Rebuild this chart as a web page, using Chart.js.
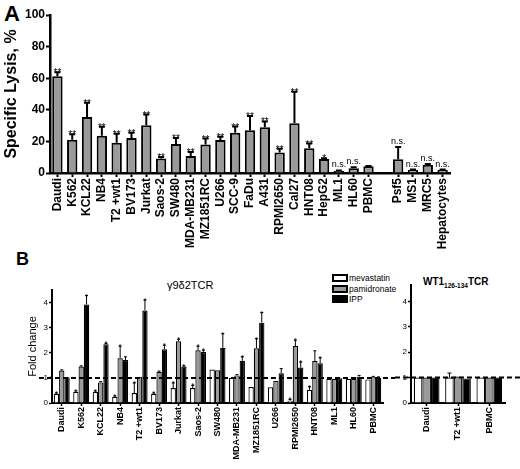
<!DOCTYPE html>
<html>
<head>
<meta charset="utf-8">
<script src="https://cdn.jsdelivr.net/npm/chart.js@4"></script>
<style>
  html, body { margin:0; padding:0; background:#fff; }
  body { width:520px; height:469px; position:relative; overflow:hidden; font-family:'Liberation Sans', Arial, sans-serif; color:#000; }
  canvas { position:absolute; }
  .lbl { position:absolute; white-space:nowrap; }
  .legend { position:absolute; left:332px; top:273px; font-size:8.5px; line-height:10.5px; }
  .legend div { height:10.5px; display:flex; align-items:center; }
  .legend span.box { display:inline-block; width:12px; height:4px; border:2px solid #000; margin-right:1px; }
</style>
</head>
<body>
<div class="lbl" style="left:4px;top:1px;font-size:22px;font-weight:bold;">A</div>
<div class="lbl" style="left:16px;top:249px;font-size:18px;font-weight:bold;">B</div>
<div class="lbl" style="left:167px;top:279px;font-size:11px;">γ9δ2TCR</div>
<div class="lbl" style="left:423px;top:276px;font-size:10px;font-weight:bold;">WT1<sub style="font-size:6.5px;">126-134</sub>TCR</div>
<div class="legend" id="legend"></div>

<canvas id="cA" width="520" height="262" style="left:0;top:0;"></canvas>
<canvas id="cB1" width="395" height="199" style="left:0;top:270px;"></canvas>
<canvas id="cB2" width="125" height="199" style="left:395px;top:270px;"></canvas>

<script>
// ---------- Panel A data ----------
const lysisLabels = ['Daudi','K562','KCL22','NB4','T2 +wt1','BV173','Jurkat','Saos-2','SW480','MDA-MB231','MZ1851RC','U266','SCC-9','FaDu','A431','RPMI2650','Cal27','HNT08','HepG2','ML1','HL60','PBMC','','Psf5','MS1','MRC5','Hepatocytes'];
const lysisValues = [61.3,21.1,35.5,23.5,19.2,22.2,30.2,9.1,18.4,10.8,18.0,20.9,25.4,27.0,29.0,12.9,31.5,15.6,8.9,1.3,3.0,4.2,null,8.7,1.9,5.3,1.9];
const lysisErrors = [2.5,3.4,9.0,5.7,5.7,3.2,6.8,1.0,3.8,2.5,3.8,2.1,4.0,9.0,3.6,2.5,20.0,3.0,0.4,0.3,0.6,0.3,null,7.8,0.3,0.4,0.3];
const lysisSig = ['**','**','**','**','**','**','**','**','**','**','**','**','**','**','**','**','**','**','*','n.s.','n.s.','','','n.s.','n.s.','n.s.','n.s.'];
const lysisTicks = [0,20,40,60,80,100];

// ---------- Panel B data (γ9δ2TCR) ----------
const foldLabels = ['Daudi','K562','KCL22','NB4','T2 +wt1','BV173','Jurkat','Saos-2','SW480','MDA-MB231','MZ1851RC','U266','RPMI2650','HNT08','ML1','HL60','PBMC'];
const mevastatin  = [0.37,0.45,0.45,0.25,0.40,0.37,0.60,0.60,1.33,1.00,0.64,0.63,0.09,0.53,0.96,0.96,0.94];
const mevastatinErr = [0.03,0.03,0.03,0.03,0.40,0.03,0.20,0.10,0,0,0,0,0.05,0.12,0,0,0];
const pamidronate = [1.29,1.45,0.82,1.78,1.05,1.24,2.46,2.10,1.30,1.10,2.18,0.88,2.27,1.67,0.96,0.96,1.03];
const pamidronateErr = [0.03,0.03,0.03,0.48,0,0.03,0.08,0.16,0,0.03,0.38,0,0.23,0.41,0,0,0.03];
const ipp = [1.03,3.92,2.34,1.71,3.68,2.14,1.45,2.03,2.20,1.68,3.20,1.18,1.41,1.58,0.99,1.05,1.00];
const ippErr = [0,0.36,0.03,0.13,0.42,0.16,0.03,0.07,0.56,0.16,0.40,0.19,0.22,0.22,0,0.05,0.04];
const mevSig = ['*','*','*','*','*','*','*','*','','','','','*','*','','',''];
const pamSig = ['','','','*','','','*','*','','','*','','*','','','',''];
const ippSig = ['','*','*','','*','*','*','*','*','*','*','','*','*','','',''];
const foldTicks = [0,1,2,3,4];

// ---------- Panel B data (WT1 126-134 TCR) ----------
const wtLabels = ['Daudi','T2 +wt1','PBMC'];
const wtMevastatin = [1.00,1.00,1.00];
const wtMevastatinErr = [0,0.18,0];
const wtPamidronate = [1.00,1.04,1.00];
const wtIpp = [1.00,0.97,1.00];

const seriesNames = ['mevastatin','pamidronate','IPP'];
const GRAY = '#9a9a9a';
const seriesFill = ['#ffffff', GRAY, '#000000'];

// legend (HTML)
const lg = document.getElementById('legend');
seriesNames.forEach((n,i)=>{
  const d = document.createElement('div');
  d.innerHTML = '<span class="box" style="background:'+seriesFill[i]+'"></span>'+n;
  lg.appendChild(d);
});

const FONT = "'Liberation Sans', Arial, sans-serif";

// Plugin: error bars, significance labels, dashed reference line
const extrasPlugin = {
  id:'extras',
  afterDatasetsDraw(chart, args, opts){
    const ctx = chart.ctx;
    const y = chart.scales.y;
    ctx.save();
    (opts.errors||[]).forEach((errs, di)=>{
      const meta = chart.getDatasetMeta(di);
      const vals = chart.data.datasets[di].data;
      meta.data.forEach((bar, j)=>{
        const v = vals[j]; const e = errs ? errs[j] : 0;
        if (v == null) return;
        const top = y.getPixelForValue(v + (e||0));
        if (e > 0) {
          ctx.strokeStyle = '#000'; ctx.lineWidth = opts.errWidth;
          const yb = y.getPixelForValue(v);
          ctx.beginPath(); ctx.moveTo(bar.x, yb); ctx.lineTo(bar.x, top);
          ctx.moveTo(bar.x - opts.capW/2, top); ctx.lineTo(bar.x + opts.capW/2, top);
          ctx.stroke();
        }
        const sig = opts.sigs && opts.sigs[di] ? opts.sigs[di][j] : '';
        if (sig) {
          ctx.fillStyle = '#000'; ctx.textAlign = 'center'; ctx.textBaseline = 'alphabetic';
          if (sig === 'n.s.') { ctx.font = opts.nsFont; ctx.fillText(sig, bar.x, top - 3); }
          else { ctx.font = opts.starFont; ctx.fillText(sig, bar.x, top + opts.starOff); }
        }
      });
    });
    if (opts.dashAt != null) {
      const py = y.getPixelForValue(opts.dashAt);
      ctx.strokeStyle = '#000'; ctx.lineWidth = 2; ctx.setLineDash([5,3]);
      ctx.beginPath(); ctx.moveTo(opts.dashFrom, py); ctx.lineTo(chart.width, py); ctx.stroke();
    }
    ctx.restore();
  }
};

function tickColorFn(labels){ return (c)=> (labels[c.index] === '' ? 'rgba(0,0,0,0)' : '#000'); }

// ---------- Chart A ----------
new Chart(document.getElementById('cA'), {
  type:'bar',
  data:{ labels: lysisLabels, datasets:[{ data: lysisValues, backgroundColor: GRAY, borderColor:'#000', borderWidth:2, barPercentage:0.7, categoryPercentage:1 }] },
  options:{
    responsive:false, animation:false, devicePixelRatio:1,
    layout:{ padding:{ left:0, right:70, top:15, bottom:0 } },
    plugins:{ legend:{display:false}, tooltip:{enabled:false},
      extras:{ errors:[lysisErrors], sigs:[lysisSig], errWidth:2, capW:6, starFont:'10px '+FONT, nsFont:'9px '+FONT, starOff:4, dashAt:null } },
    scales:{
      x:{ offset:true,
        grid:{ display:true, drawOnChartArea:false, offset:false, tickLength:4, tickWidth:2, tickColor: tickColorFn(lysisLabels) },
        border:{ display:true, color:'#000', width:2.5 },
        ticks:{ autoSkip:false, minRotation:90, maxRotation:90, padding:1, color:'#000', font:{ family:FONT, size:12, weight:'bold' } },
        afterFit(s){ s.height = 89; } },
      y:{ min:0, max:100,
        afterBuildTicks(s){ s.ticks = lysisTicks.map(v=>({value:v})); },
        grid:{ display:true, drawOnChartArea:false, tickLength:4, tickWidth:2, tickColor:'#000' },
        border:{ display:true, color:'#000', width:2.5 },
        ticks:{ padding:1, color:'#000', font:{ family:FONT, size:12, weight:'bold' } },
        title:{ display:true, text:'Specific Lysis, %', color:'#000', font:{ family:FONT, size:16, weight:'bold' }, padding:{top:2,bottom:0} },
        afterFit(s){ s.width = 50; } }
    }
  },
  plugins:[extrasPlugin]
});

function foldDatasets(a, b, c, bw){
  return [a,b,c].map((d,i)=>({ label:seriesNames[i], data:d, backgroundColor:seriesFill[i], borderColor:'#000', borderWidth:bw, barPercentage:1, categoryPercentage:0.82 }));
}

// ---------- Chart B left ----------
new Chart(document.getElementById('cB1'), {
  type:'bar',
  data:{ labels: foldLabels, datasets: foldDatasets(mevastatin, pamidronate, ipp, 1.2) },
  options:{
    responsive:false, animation:false, devicePixelRatio:1,
    layout:{ padding:{ left:23, right:12, top:20, bottom:0 } },
    plugins:{ legend:{display:false}, tooltip:{enabled:false},
      extras:{ errors:[mevastatinErr, pamidronateErr, ippErr], sigs:[mevSig, pamSig, ippSig], errWidth:1, capW:3, starFont:'8px '+FONT, nsFont:'8px '+FONT, starOff:3, dashAt:1, dashFrom:39 } },
    scales:{
      x:{ offset:true,
        grid:{ display:true, drawOnChartArea:false, offset:false, tickLength:3, tickWidth:1.5, tickColor:'#000' },
        border:{ display:true, color:'#000', width:2 },
        ticks:{ autoSkip:false, minRotation:90, maxRotation:90, padding:1, color:'#000', font:{ family:FONT, size:9, weight:'bold' } },
        afterFit(s){ s.height = 66; } },
      y:{ min:0, max:4.5,
        afterBuildTicks(s){ s.ticks = foldTicks.map(v=>({value:v})); },
        grid:{ display:true, drawOnChartArea:false, tickLength:3, tickWidth:1.5, tickColor:'#000' },
        border:{ display:true, color:'#000', width:2 },
        ticks:{ padding:1, color:'#000', font:{ family:FONT, size:8 } },
        title:{ display:true, text:'Fold change', color:'#000', font:{ family:FONT, size:11 }, padding:{top:3,bottom:0} },
        afterFit(s){ s.width = 29; } }
    }
  },
  plugins:[extrasPlugin]
});

// ---------- Chart B right ----------
new Chart(document.getElementById('cB2'), {
  type:'bar',
  data:{ labels: wtLabels, datasets: foldDatasets(wtMevastatin, wtPamidronate, wtIpp, 1.2) },
  options:{
    responsive:false, animation:false, devicePixelRatio:1,
    layout:{ padding:{ left:0, right:15, top:15, bottom:0 } },
    plugins:{ legend:{display:false}, tooltip:{enabled:false},
      extras:{ errors:[wtMevastatinErr, null, null], sigs:[], errWidth:1, capW:4, starFont:'8px '+FONT, nsFont:'8px '+FONT, starOff:3, dashAt:1, dashFrom:0 } },
    scales:{
      x:{ offset:true,
        grid:{ display:true, drawOnChartArea:false, offset:false, tickLength:3, tickWidth:1.5, tickColor:'#000' },
        border:{ display:true, color:'#000', width:2 },
        ticks:{ autoSkip:false, minRotation:90, maxRotation:90, padding:1, color:'#000', font:{ family:FONT, size:9, weight:'bold' } },
        afterFit(s){ s.height = 66; } },
      y:{ min:0, max:4.65,
        afterBuildTicks(s){ s.ticks = foldTicks.map(v=>({value:v})); },
        grid:{ display:true, drawOnChartArea:false, tickLength:3, tickWidth:1.5, tickColor:'#000' },
        border:{ display:true, color:'#000', width:2 },
        ticks:{ padding:1, color:'#000', font:{ family:FONT, size:8 } },
        afterFit(s){ s.width = 16; } }
    }
  },
  plugins:[extrasPlugin]
});
</script>
</body>
</html>
